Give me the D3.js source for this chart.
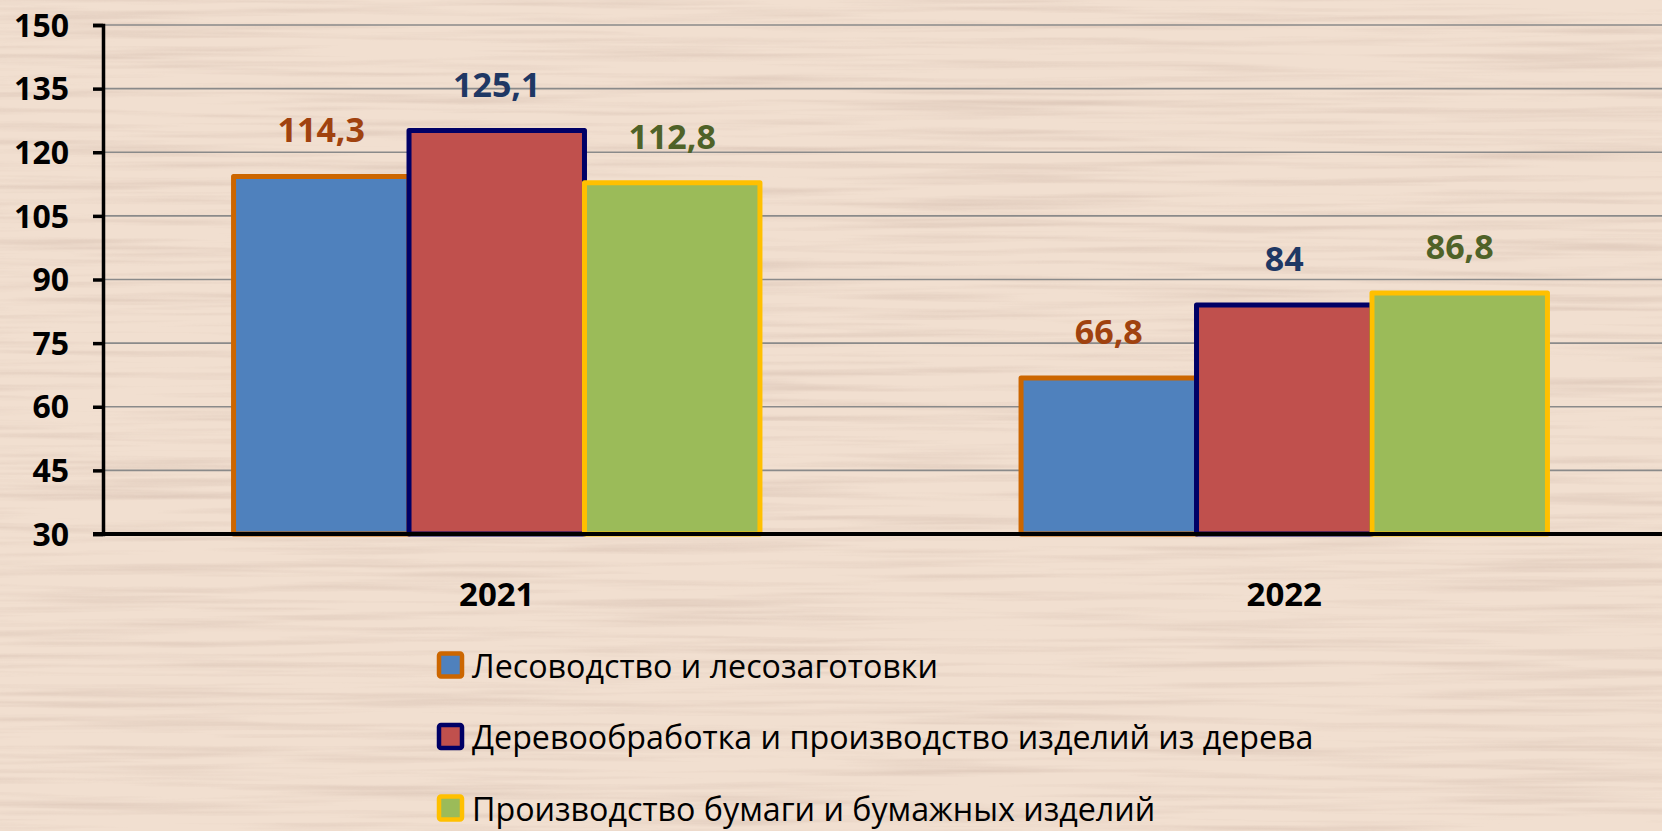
<!DOCTYPE html>
<html>
<head>
<meta charset="utf-8">
<script src="https://cdn.jsdelivr.net/npm/d3@7"></script>
<style>
  html, body { margin: 0; padding: 0; background: #efdfcf; overflow: hidden; }
  svg { display: block; }
  text { font-family: "Open Sans", "Noto Sans", "DejaVu Sans", sans-serif; }
</style>
</head>
<body>
<svg id="chart" width="1662" height="831"></svg>
<script>
// ---- data ----
const categories = ["2021", "2022"];
const seriesNames = [
  "Лесоводство и лесозаготовки",
  "Деревообработка и производство изделий из дерева",
  "Производство бумаги и бумажных изделий"
];
const forestry = [114.3, 66.8];
const woodworking = [125.1, 84];
const paper = [112.8, 86.8];
const valueLabels = [["114,3", "66,8"], ["125,1", "84"], ["112,8", "86,8"]];
const yTicks = [30, 45, 60, 75, 90, 105, 120, 135, 150];

// ---- styles ----
const fills = ["#4F81BD", "#C0504D", "#9BBB59"];
const strokes = ["#CC6600", "#000066", "#FFC000"];
const labelColors = ["#A0420F", "#1F3864", "#4F6228"];

const W = 1662, H = 831;
const svg = d3.select("#chart");

// background wood texture
const defs = svg.append("defs");
const f = defs.append("filter").attr("id", "wood")
  .attr("x", 0).attr("y", 0).attr("width", "100%").attr("height", "100%")
  .attr("filterUnits", "userSpaceOnUse");
f.append("feTurbulence").attr("type", "fractalNoise")
  .attr("baseFrequency", "0.0035 0.13").attr("numOctaves", 3).attr("seed", 7).attr("result", "n");
f.append("feColorMatrix").attr("in", "n").attr("type", "matrix")
  .attr("values", "0 0 0 0 0.55  0 0 0 0 0.40  0 0 0 0 0.33  1.6 0 0 0 -0.72");
svg.append("rect").attr("width", W).attr("height", H).attr("fill", "#f1dfd0");
svg.append("rect").attr("width", W).attr("height", H).attr("fill", "#000")
  .attr("filter", "url(#wood)").attr("opacity", 0.5);

// ---- scales ----
const plotLeft = 103, plotRight = 1678, plotTop = 25, plotBottom = 534;
const y = d3.scaleLinear().domain([30, 150]).range([plotBottom, plotTop]);
const x0 = d3.scaleBand().domain(categories).range([plotLeft, plotRight]).padding(0);
const x1 = d3.scaleBand().domain(d3.range(3)).range([0, x0.bandwidth()])
  .paddingInner(0).paddingOuter(0.744);

const seriesValues = [forestry, woodworking, paper];

// gridlines
svg.append("g").selectAll("line").data(yTicks.filter(t => t !== 30)).join("line")
  .attr("x1", plotLeft).attr("x2", W)
  .attr("y1", d => y(d)).attr("y2", d => y(d))
  .attr("stroke", "#8a8a8a").attr("stroke-width", 1.6);

// bars
seriesValues.forEach((vals, si) => {
  svg.append("g").selectAll("rect").data(categories).join("rect")
    .attr("x", (c) => x0(c) + x1(si))
    .attr("y", (c, i) => y(vals[i]))
    .attr("width", x1.bandwidth())
    .attr("height", (c, i) => y(30) - y(vals[i]))
    .attr("fill", fills[si])
    .attr("stroke", strokes[si])
    .attr("stroke-width", 5)
    .attr("stroke-linejoin", "round");
});

// value labels
seriesValues.forEach((vals, si) => {
  svg.append("g").selectAll("text").data(categories).join("text")
    .attr("x", c => x0(c) + x1(si) + x1.bandwidth() / 2)
    .attr("y", (c, i) => y(vals[i]) - 47)
    .attr("text-anchor", "middle").attr("dominant-baseline", "central")
    .attr("font-size", 34).attr("font-weight", 700)
    .attr("fill", labelColors[si])
    .text((c, i) => valueLabels[si][i]);
});

// y axis
const yAxis = d3.axisLeft(y).tickValues(yTicks).tickSize(10).tickPadding(24).tickFormat(d3.format("d"));
const gy = svg.append("g").attr("transform", `translate(${plotLeft},0)`).call(yAxis);
gy.select(".domain").attr("stroke", "#000").attr("stroke-width", 3.5);
gy.selectAll(".tick line").attr("stroke", "#000").attr("stroke-width", 3.5);
gy.selectAll(".tick text").attr("font-size", 32).attr("font-weight", 700)
  .attr("fill", "#000").attr("font-family", "'Open Sans', sans-serif").attr("dy", "0.35em");

// x axis
const xAxis = d3.axisBottom(x0).tickSize(0).tickPadding(0);
const gx = svg.append("g").attr("transform", `translate(0,${plotBottom})`).call(xAxis);
gx.select(".domain").remove();
gx.append("line").attr("x1", plotLeft - 10).attr("x2", W).attr("y1", 0).attr("y2", 0)
  .attr("stroke", "#000").attr("stroke-width", 4);
gx.selectAll(".tick text").attr("font-size", 33).attr("font-weight", 700)
  .attr("fill", "#000").attr("font-family", "'Open Sans', sans-serif")
  .attr("y", 60).attr("dy", "0.35em");

// legend
const legX = 437, legY0 = 665, legStep = 71.5;
const leg = svg.append("g");
const items = leg.selectAll("g").data(seriesNames).join("g")
  .attr("transform", (d, i) => `translate(${legX},${legY0 + i * legStep})`);
items.append("rect").attr("x", 2).attr("y", -11.5).attr("width", 23).attr("height", 23)
  .attr("rx", 2).attr("fill", (d, i) => fills[i]).attr("stroke", (d, i) => strokes[i])
  .attr("stroke-width", 4.5);
const legTexts = items.append("text").attr("x", 35).attr("y", 0)
  .attr("dominant-baseline", "central").attr("font-size", 32).attr("fill", "#000")
  .text(d => d);
// fit font size so the longest entry spans the reference width
const longest = d3.max(legTexts.nodes(), n => n.getComputedTextLength());
const fs = Math.max(24, Math.min(36, 32 * 842 / longest));
legTexts.attr("font-size", fs);
</script>
</body>
</html>
